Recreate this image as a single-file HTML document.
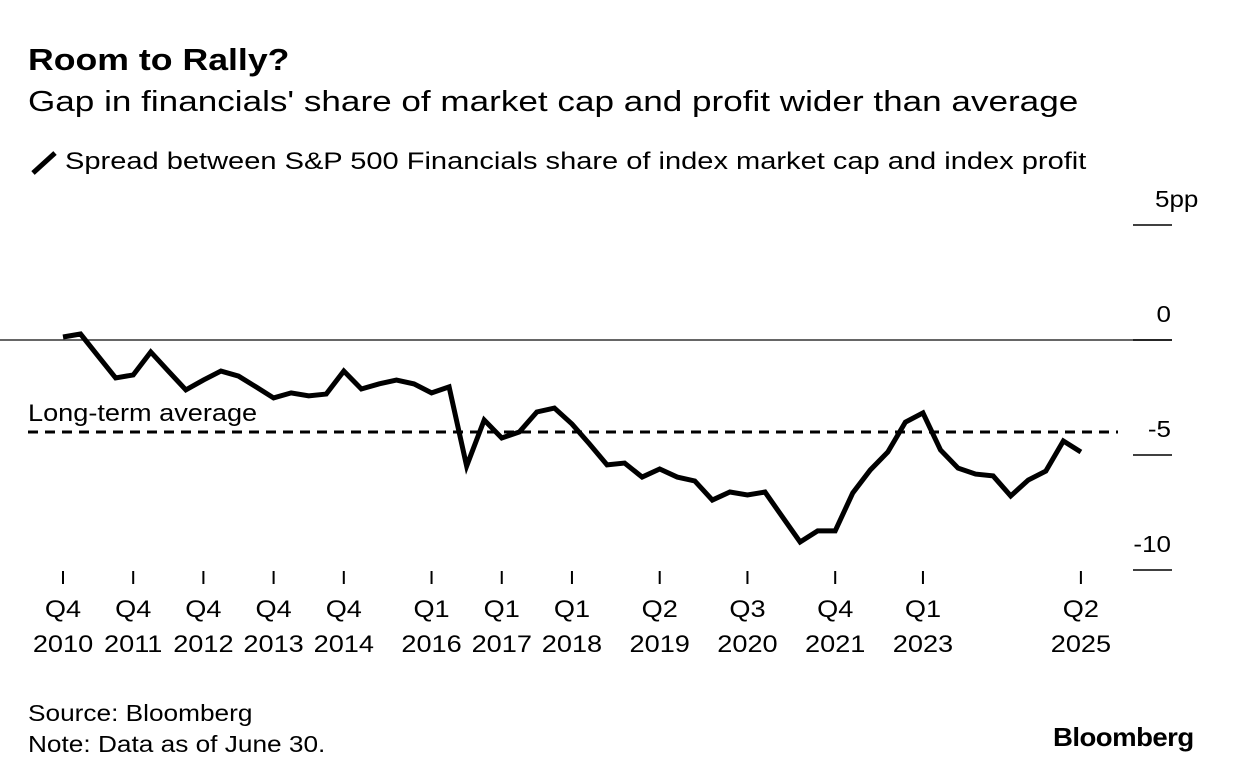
<!DOCTYPE html>
<html><head><meta charset="utf-8"><style>
body{margin:0;background:#fff;font-family:"Liberation Sans",Arial,sans-serif;color:#000}
#wrap{position:relative;width:1233px;height:782px;overflow:hidden}
.t{position:absolute;white-space:nowrap;transform-origin:0 0}
</style></head><body>
<div id="wrap">
<div class="t" style="left:28px;top:42px;font-size:31px;font-weight:bold;transform:scaleX(1.15)">Room to Rally?</div>
<div class="t" style="left:28px;top:86px;font-size:29px;transform:scaleX(1.21)">Gap in financials' share of market cap and profit wider than average</div>
<svg width="30" height="26" style="position:absolute;left:30px;top:150px"><line x1="3" y1="23" x2="25" y2="3" stroke="#000" stroke-width="5"/></svg>
<div class="t" style="left:65px;top:148px;font-size:24px;transform:scaleX(1.21)">Spread between S&amp;P 500 Financials share of index market cap and index profit</div>
<svg id="plot" width="1233" height="782" style="position:absolute;left:0;top:0"></svg>
<div class="t" style="left:28px;top:700px;font-size:23px;transform:scaleX(1.14)">Source: Bloomberg</div>
<div class="t" style="left:28px;top:731px;font-size:23px;transform:scaleX(1.14)">Note: Data as of June 30.</div>
<div class="t" style="left:1053px;top:722px;font-size:26px;font-weight:bold;letter-spacing:-0.5px;transform:scaleX(1.06)">Bloomberg</div>
</div>
<script>
const values=[0.13,0.26,-0.70,-1.65,-1.52,-0.52,-1.35,-2.17,-1.74,-1.35,-1.57,-2.04,-2.52,-2.30,-2.43,-2.35,-1.35,-2.13,-1.91,-1.74,-1.91,-2.30,-2.04,-5.48,-3.48,-4.26,-4.0,-3.13,-2.96,-3.65,-4.52,-5.43,-5.35,-5.96,-5.61,-5.96,-6.13,-6.96,-6.61,-6.74,-6.61,-7.70,-8.78,-8.30,-8.30,-6.65,-5.65,-4.87,-3.57,-3.17,-4.78,-5.57,-5.83,-5.91,-6.78,-6.09,-5.70,-4.39,-4.87];
const average=-4.0;
const xTickIdx=[0,4,8,12,16,21,25,29,34,39,44,49,58];
const xTickTop=["Q4","Q4","Q4","Q4","Q4","Q1","Q1","Q1","Q2","Q3","Q4","Q1","Q2"];
const xTickBot=["2010","2011","2012","2013","2014","2016","2017","2018","2019","2020","2021","2023","2025"];
const yTicks=[5,0,-5,-10];
const yTickLabels=["5pp","0","-5","-10"];
const NS="http://www.w3.org/2000/svg";
const svg=document.getElementById('plot');
const x=i=>63+i*17.55;
const y=v=>340-v*23;
const FONT='Liberation Sans, sans-serif';
function mk(t,a){const e=document.createElementNS(NS,t);for(const k in a)e.setAttribute(k,a[k]);svg.appendChild(e);return e;}
function widen(t,f){const w=t.getComputedTextLength();t.setAttribute('textLength',w*f);t.setAttribute('lengthAdjust','spacingAndGlyphs');}
let z=mk('line',{x1:0,x2:1172,y1:y(0),y2:y(0),stroke:'#333','stroke-width':1.5});


yTicks.forEach((v,k)=>{
 const l=mk('line',{x1:1133,x2:1172,y1:y(v),y2:y(v),stroke:'#000','stroke-width':1.5});
 
 
 const first=k===0;
 const t=mk('text',{x:first?1155:1171,y:y(v)-18,'text-anchor':first?'start':'end','font-size':23,'font-family':FONT});
 t.textContent=yTickLabels[k];
 
 
 widen(t,1.13);
});
const avg=mk('line',{x1:28,x2:1118,y1:y(average),y2:y(average),stroke:'#000','stroke-width':3,'stroke-dasharray':'10,7'});


const at=mk('text',{x:28,y:y(average)-11,'font-size':24,'font-family':FONT});
at.textContent='Long-term average';


widen(at,1.13);
xTickIdx.forEach((i,k)=>{
 const l=mk('line',{x1:x(i),x2:x(i),y1:571,y2:584,stroke:'#000','stroke-width':2});
 
 
 [xTickTop[k],xTickBot[k]].forEach((s,j)=>{
  const t=mk('text',{x:x(i),y:617+j*35,'text-anchor':'middle','font-size':24,'font-family':FONT});
  t.textContent=s;
  
  
  widen(t,1.13);
 });
});
const p=mk('polyline',{points:values.map((v,i)=>x(i)+','+y(v)).join(' '),fill:'none',stroke:'#000','stroke-width':5,'stroke-linejoin':'miter'});


</script>
</body></html>
